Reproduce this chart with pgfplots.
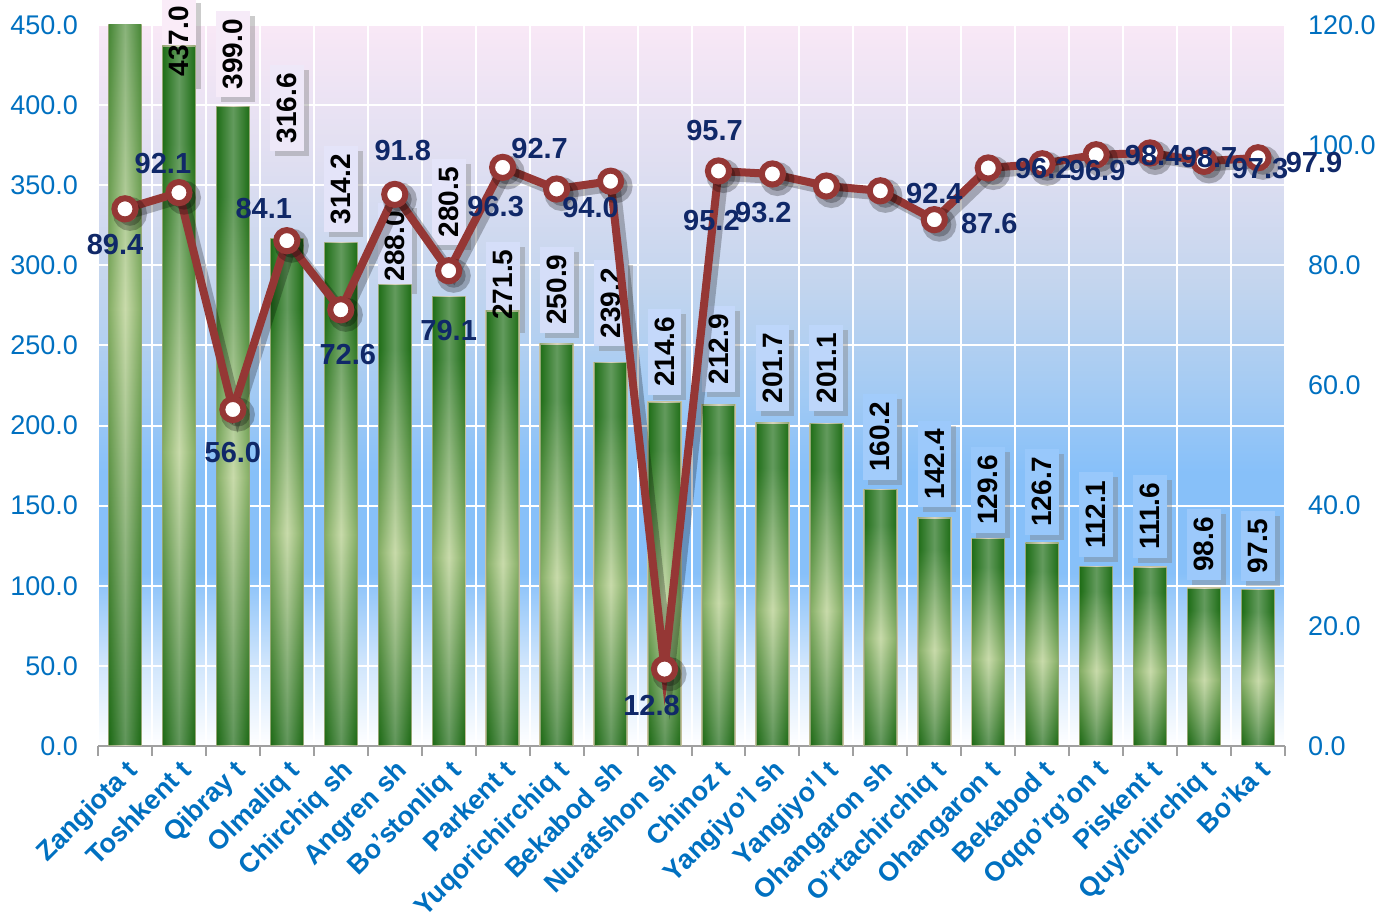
\documentclass[border=0pt]{standalone}
\usepackage{fontspec}
\setmainfont{Liberation Sans}
\usepackage{pgfplots}
\usepackage{pgfplotstable}
\pgfplotsset{compat=1.18}
\usetikzlibrary{calc,shadows}

\definecolor{tickblue}{RGB}{0,112,192}
\definecolor{labNavy}{RGB}{16,40,104}
\definecolor{lineRed}{RGB}{149,55,53}
\definecolor{axisgray}{RGB}{160,160,160}
\definecolor{barEdge}{RGB}{200,194,160}
\definecolor{gDark}{RGB}{28,105,20}
\definecolor{gLight}{RGB}{178,204,135}
\definecolor{gTop}{RGB}{32,112,24}
\definecolor{bgA}{RGB}{205,228,252}
\definecolor{bgB}{RGB}{135,192,249}
\definecolor{bgC}{RGB}{165,203,243}
\definecolor{bgD}{RGB}{195,213,238}
\definecolor{bgE}{RGB}{222,222,241}
\definecolor{bgF}{RGB}{249,232,246}
\definecolor{boxLow}{RGB}{152,200,251}
\definecolor{boxHigh}{RGB}{250,236,248}

\pgfdeclareverticalshading{bgshade}{100bp}{color(0bp)=(white); color(25bp)=(white);
  color(31bp)=(bgA); color(37bp)=(bgB); color(44bp)=(bgB); color(50bp)=(bgC);
  color(57bp)=(bgD); color(65bp)=(bgE); color(75bp)=(bgF); color(100bp)=(bgF)}
\pgfdeclareverticalshading{barshade}{100bp}{color(0bp)=(gDark); color(25bp)=(gDark);
  color(46bp)=(gLight); color(68bp)=(gTop); color(75bp)=(gTop); color(100bp)=(gTop)}

\newcommand\tickfont{\fontsize{13.5}{15}\selectfont}
\newcommand\labfont{\fontsize{14}{16}\selectfont\bfseries}

% bars (left axis)
\pgfplotstableread{
x y
0 650
1 437.0
2 399.0
3 316.6
4 314.2
5 288.0
6 280.5
7 271.5
8 250.9
9 239.2
10 214.6
11 212.9
12 201.7
13 201.1
14 160.2
15 142.4
16 129.6
17 126.7
18 112.1
19 111.6
20 98.6
21 97.5
}\barTable

% bar labels: gap above bar (pt), box colour (percent of boxLow)
\pgfplotstableread{
x y g m
1 437.0 -19.5 0
2 399.0 4.5 4
3 316.6 43.5 12
4 314.2 5 22
5 288.0 -2.5 32
6 280.5 25.5 22
7 271.5 -8.5 38
8 250.9 5.5 38
9 239.2 8 42
10 214.6 3.5 55
11 212.9 6 55
12 201.7 5.5 62
13 201.1 6 62
14 160.2 4.5 90
15 142.4 5 96
16 129.6 2.5 100
17 126.7 4 100
18 112.1 4.5 100
19 111.6 4.5 100
20 98.6 4 96
21 97.5 4 96
}\labTable

% line (right axis) with label offsets in pt
\pgfplotstableread{
x y dx dy
0 89.4 -5 -18
1 92.1 -8 14.5
2 56.0 0 -21.5
3 84.1 -11.5 16
4 72.6 3.5 -22.5
5 91.8 4 22
6 79.1 0 -30
7 96.3 -3.5 -19.5
8 92.7 -8.5 20
9 94.0 -10 -13
10 12.8 -6.5 -18
11 95.7 -2 20
12 95.2 -30.5 -23.5
13 93.2 -31.5 -13.5
14 92.4 27 -1.5
15 87.6 27.5 -2
16 96.2 27.5 -0.5
17 96.9 27.5 -3.5
18 98.4 28.5 -0.5
19 98.7 29.5 -2.5
20 97.3 28 -3.5
21 97.9 28 -2.5
}\lineTable

\pgfplotsset{
  barlab/.style={draw=none, point meta=y,
    nodes near coords={\pgfmathprintnumber[fixed,fixed zerofill,precision=1]{\pgfplotspointmeta}},
    visualization depends on={\thisrow{g}\as\bgap},
    visualization depends on={\thisrow{m}\as\bmix},
    every node near coord/.append style={yshift=\bgap pt, rotate=90, anchor=west,
        font=\labfont, text=black, inner xsep=4pt, inner ysep=3.5pt}},
}

\begin{document}
\begin{tikzpicture}
\begin{axis}[
    name=ax,
    scale only axis, width=593.5pt, height=360.5pt,
    xmin=-0.5, xmax=21.5, ymin=0, ymax=450,
    clip mode=individual,
    axis background/.style={shading=bgshade},
    axis x line*=bottom, axis y line*=left,
    y axis line style={draw=none},
    x axis line style={draw=axisgray, line width=1pt},
    /pgf/number format/assume math mode=true,
    ytick={0,50,...,450}, ytick style={draw=none},
    yticklabel style={font=\tickfont, color=tickblue, xshift=-6.5pt,
        /pgf/number format/fixed, /pgf/number format/fixed zerofill,
        /pgf/number format/precision=1},
    xtick={0,...,21},
    xticklabels={Zangiota t, Toshkent t, Qibray t, Olmaliq t, Chirchiq sh,
        Angren sh, Bo'stonliq t, Parkent t, Yuqorichirchiq t, Bekabod sh,
        Nurafshon sh, Chinoz t, Yangiyo'l sh, Yangiyo'l t, Ohangaron sh,
        O'rtachirchiq t, Ohangaron t, Bekabod t, Oqqo'rg'on t, Piskent t,
        Quyichirchiq t, Bo'ka t},
    xticklabel style={rotate=45, anchor=north east, font=\tickfont\bfseries,
        color=tickblue, inner sep=1pt},
    major x tick style={draw=none},
    minor xtick={-0.5,0.5,...,21.5},
    minor x tick style={draw=axisgray, line width=1pt},
    xtick align=outside, minor tick length=5pt,
    xminorgrids, minor x grid style={white, line width=1pt},
    ymajorgrids, major y grid style={white, line width=1pt},
]
% label boxes behind the bars
\addplot[barlab, every node near coord/.append style={text opacity=0,
    fill=boxLow!\bmix!boxHigh,
    drop shadow={shadow xshift=2.5pt, shadow yshift=-2.5pt, opacity=0.4}}]
    table[x=x,y=y]{\labTable};
% one plot per bar, so that each bar gets its own shading
\pgfplotsinvokeforeach{0,...,21}{
  \addplot[ybar, bar width=16.5pt, bar shift=0pt, shading=barshade,
      draw=barEdge, line width=0.7pt, restrict x to domain=#1:#1]
      table[x=x,y=y]{\barTable};
  \addplot[ybar, bar width=16.5pt, bar shift=0pt, left color=gDark,
      right color=gDark, middle color=white, fill opacity=0.3, draw=none,
      restrict x to domain=#1:#1]
      table[x=x,y=y]{\barTable};
}
% label text above the bars
\addplot[barlab] table[x=x,y=y]{\labTable};
\end{axis}

\begin{axis}[
    scale only axis, width=593.5pt, height=360.5pt,
    xmin=-0.5, xmax=21.5, ymin=0, ymax=120,
    clip=false,
    axis x line=none, axis y line*=right,
    y axis line style={draw=none},
    /pgf/number format/assume math mode=true,
    ytick={0,20,...,120}, ytick style={draw=none},
    yticklabel style={font=\tickfont, color=tickblue, xshift=8pt,
        /pgf/number format/fixed, /pgf/number format/fixed zerofill,
        /pgf/number format/precision=1},
]
\addplot[black, opacity=0.25, line width=5pt, xshift=2.5pt, yshift=-2.5pt,
    mark=*, mark size=6pt] table[x=x,y=y]{\lineTable};
\addplot[lineRed, line width=4pt, mark=*, mark size=5.3pt,
    mark options={fill=white, draw=lineRed, line width=3pt}]
    table[x=x,y=y]{\lineTable};
\addplot[draw=none, point meta=y,
    nodes near coords={\pgfmathprintnumber[fixed,fixed zerofill,precision=1]{\pgfplotspointmeta}},
    visualization depends on={\thisrow{dx}\as\ldx},
    visualization depends on={\thisrow{dy}\as\ldy},
    every node near coord/.append style={anchor=center, xshift=\ldx pt,
        yshift=\ldy pt, font=\fontsize{14.5}{16}\selectfont\bfseries, text=labNavy},
] table[x=x,y=y]{\lineTable};
\end{axis}

\pgfresetboundingbox
\path[use as bounding box] ($(ax.south west)+(-49pt,-86.5pt)$) rectangle
    ($(ax.north east)+(53.5pt,12.5pt)$);
\end{tikzpicture}
\end{document}
